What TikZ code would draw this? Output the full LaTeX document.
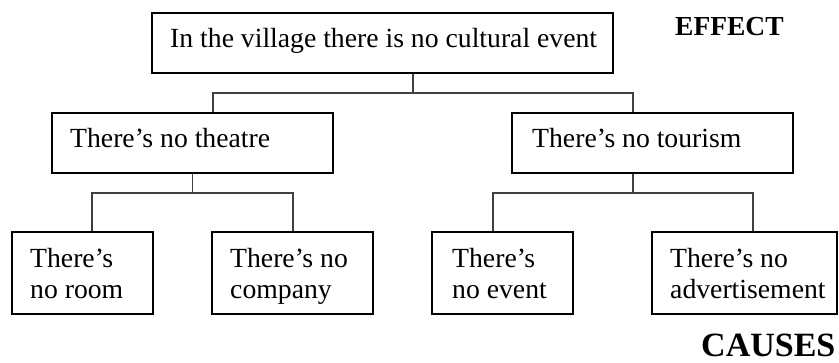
\documentclass[tikz,border=0pt]{standalone}
\usepackage{fontspec}
\setmainfont{Liberation Serif}
\usetikzlibrary{calc}
\begin{document}
\begin{tikzpicture}[x=1pt,y=-1pt,
  box/.style={draw=black, line width=2pt, rectangle, inner sep=0pt},
  txt/.style={inner sep=0pt, anchor=base west, font=\fontsize{27.7}{31}\selectfont},
  conn/.style={draw=black!75, line width=1.1pt},
  tag/.style={inner sep=0pt, anchor=base west, font=\bfseries}]
\useasboundingbox (0,0) rectangle (839,362);
% boxes
\node[box, minimum width=461pt, minimum height=60pt] (top) at (382.5,43) {};
\node[box, minimum width=281pt, minimum height=60pt] (ml) at (192.5,143) {};
\node[box, minimum width=281pt, minimum height=60pt] (mr) at (652.5,143) {};
\node[box, minimum width=141pt, minimum height=82pt] (b1) at (82.5,273) {};
\node[box, minimum width=161pt, minimum height=82pt] (b2) at (292.5,273) {};
\node[box, minimum width=141pt, minimum height=82pt] (b3) at (502.5,273) {};
\node[box, minimum width=185pt, minimum height=82pt] (b4) at (744.5,273) {};
% texts
\node[txt] (ttop) at (170,47) {In the village there is no cultural event};
\node[txt] (tml) at (70,147) {There’s no theatre};
\node[txt] (tmr) at (532,147) {There’s no tourism};
\node[txt] (tb1) at (30,267) {\begin{tabular}[t]{@{}l@{}}There’s\\no room\end{tabular}};
\node[txt] (tb2) at (230,267) {\begin{tabular}[t]{@{}l@{}}There’s no\\company\end{tabular}};
\node[txt] (tb3) at (452,267) {\begin{tabular}[t]{@{}l@{}}There’s\\no event\end{tabular}};
\node[txt] (tb4) at (670,267) {\begin{tabular}[t]{@{}l@{}}There’s no\\advertisement\end{tabular}};
\node[tag, font=\fontsize{27.5}{31}\selectfont\bfseries] (effect) at (675,35) {EFFECT};
\node[tag, font=\fontsize{34}{40}\selectfont\bfseries] (causes) at (701,356) {CAUSES};
% junction coordinates
\coordinate (j0) at (413,93);
\coordinate (j1) at (192.5,193);
\coordinate (j2) at (633,193);
% connectors
\draw[conn] (top.south -| j0) -- (j0);
\draw[conn] (ml.north -| 213,0) |- (j0) -| (mr.north -| 633,0);
\draw[conn] (ml.south) -- (j1);
\draw[conn] (b1.north -| 92,0) |- (j1) -| (b2.north -| 293,0);
\draw[conn] (mr.south -| j2) -- (j2);
\draw[conn] (b3.north -| 493,0) |- (j2) -| (b4.north -| 753,0);
\end{tikzpicture}
\end{document}
